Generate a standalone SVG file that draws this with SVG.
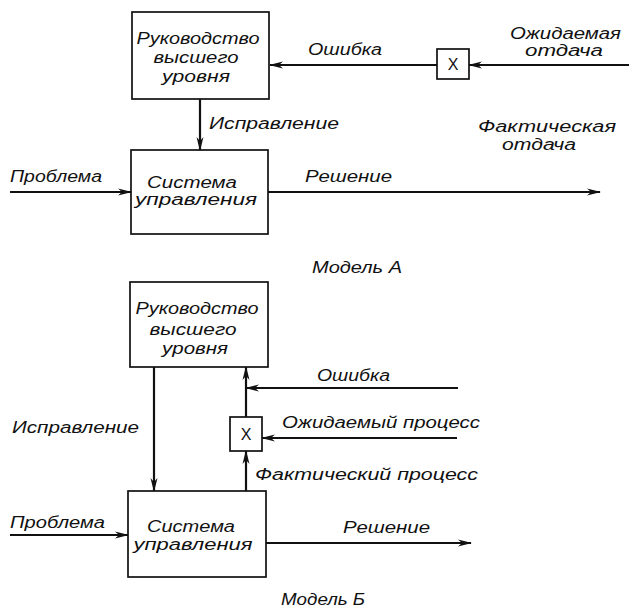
<svg xmlns="http://www.w3.org/2000/svg" width="629" height="610" viewBox="0 0 629 610">
  <style>
    .box { fill: #fff; stroke: #111; stroke-width: 1.7; }
    .ln { fill: none; stroke: #111; stroke-width: 2.2; }
    .t { font-family: "Liberation Sans", "DejaVu Sans", sans-serif; font-style: italic; font-size: 16px; fill: #111; }
    .c { text-anchor: middle; }
    .x { font-family: "Liberation Sans", "DejaVu Sans", sans-serif; font-size: 16px; fill: #111; text-anchor: middle; }
  </style>
  <defs>
    <marker id="arr" viewBox="0 0 14 8" refX="13" refY="4" markerWidth="14" markerHeight="8" markerUnits="userSpaceOnUse" orient="auto">
      <path d="M0,0.5 L14,4 L0,7.5 L4,4 z" fill="#111"/>
    </marker>
  </defs>
  <rect width="629" height="610" fill="#fff"/>

  <!-- Model A connectors -->
  <g id="connectors-a">
    <line class="ln" x1="437" y1="65" x2="270" y2="65" marker-end="url(#arr)"/>
    <line class="ln" x1="629" y1="65" x2="469" y2="65" marker-end="url(#arr)"/>
    <line class="ln" x1="200" y1="99" x2="200" y2="150" marker-end="url(#arr)"/>
    <line class="ln" x1="10" y1="192" x2="131" y2="192" marker-end="url(#arr)"/>
    <line class="ln" x1="268" y1="192" x2="600" y2="192" marker-end="url(#arr)"/>
  </g>

  <!-- Model A nodes -->
  <g id="a-top">
    <rect class="box" x="132" y="12" width="137" height="87"/>
    <text class="t c" x="198" y="44" textLength="123" lengthAdjust="spacingAndGlyphs">Руководство</text>
    <text class="t c" x="196" y="63" textLength="85" lengthAdjust="spacingAndGlyphs">высшего</text>
    <text class="t c" x="196" y="82" textLength="68" lengthAdjust="spacingAndGlyphs">уровня</text>
  </g>
  <g id="a-mult">
    <rect class="box" x="437" y="49" width="32" height="30"/>
    <text class="x" x="453" y="70">X</text>
  </g>
  <g id="a-bottom">
    <rect class="box" x="131" y="150" width="137" height="84"/>
    <text class="t c" x="192" y="188" textLength="90" lengthAdjust="spacingAndGlyphs">Система</text>
    <text class="t c" x="196" y="205" textLength="122" lengthAdjust="spacingAndGlyphs">управления</text>
  </g>
  <g id="a-labels">
    <text class="t" x="308" y="55" textLength="74" lengthAdjust="spacingAndGlyphs">Ошибка</text>
    <text class="t" x="510" y="39" textLength="111" lengthAdjust="spacingAndGlyphs">Ожидаемая</text>
    <text class="t" x="525" y="56" textLength="78" lengthAdjust="spacingAndGlyphs">отдача</text>
    <text class="t" x="209" y="129" textLength="130" lengthAdjust="spacingAndGlyphs">Исправление</text>
    <text class="t" x="478" y="132" textLength="138" lengthAdjust="spacingAndGlyphs">Фактическая</text>
    <text class="t" x="502" y="150" textLength="74" lengthAdjust="spacingAndGlyphs">отдача</text>
    <text class="t" x="10" y="182" textLength="92" lengthAdjust="spacingAndGlyphs">Проблема</text>
    <text class="t" x="305" y="182" textLength="87" lengthAdjust="spacingAndGlyphs">Решение</text>
    <text class="t" x="312" y="273" textLength="90" lengthAdjust="spacingAndGlyphs">Модель А</text>
  </g>

  <!-- Model B connectors -->
  <g id="connectors-b">
    <line class="ln" x1="154" y1="367" x2="154" y2="491" marker-end="url(#arr)"/>
    <line class="ln" x1="246" y1="491" x2="246" y2="451" marker-end="url(#arr)"/>
    <line class="ln" x1="246" y1="417" x2="246" y2="367" marker-end="url(#arr)"/>
    <line class="ln" x1="458" y1="388" x2="246" y2="388" marker-end="url(#arr)"/>
    <line class="ln" x1="457" y1="438" x2="262" y2="438" marker-end="url(#arr)"/>
    <line class="ln" x1="10" y1="535" x2="128" y2="535" marker-end="url(#arr)"/>
    <line class="ln" x1="266" y1="543" x2="471" y2="543" marker-end="url(#arr)"/>
  </g>

  <!-- Model B nodes -->
  <g id="b-top">
    <rect class="box" x="130" y="282" width="138" height="85"/>
    <text class="t c" x="197" y="314" textLength="123" lengthAdjust="spacingAndGlyphs">Руководство</text>
    <text class="t c" x="193" y="335" textLength="87" lengthAdjust="spacingAndGlyphs">высшего</text>
    <text class="t c" x="195" y="354" textLength="66" lengthAdjust="spacingAndGlyphs">уровня</text>
  </g>
  <g id="b-mult">
    <rect class="box" x="230" y="417" width="32" height="34"/>
    <text class="x" x="246" y="440">X</text>
  </g>
  <g id="b-bottom">
    <rect class="box" x="128" y="491" width="138" height="86"/>
    <text class="t c" x="191" y="532" textLength="88" lengthAdjust="spacingAndGlyphs">Система</text>
    <text class="t c" x="193" y="550" textLength="119" lengthAdjust="spacingAndGlyphs">управления</text>
  </g>
  <g id="b-labels">
    <text class="t" x="317" y="381" textLength="73" lengthAdjust="spacingAndGlyphs">Ошибка</text>
    <text class="t" x="282" y="428" textLength="198" lengthAdjust="spacingAndGlyphs">Ожидаемый процесс</text>
    <text class="t" x="255" y="480" textLength="223" lengthAdjust="spacingAndGlyphs">Фактический процесс</text>
    <text class="t" x="12" y="433" textLength="127" lengthAdjust="spacingAndGlyphs">Исправление</text>
    <text class="t" x="10" y="528" textLength="95" lengthAdjust="spacingAndGlyphs">Проблема</text>
    <text class="t" x="343" y="533" textLength="87" lengthAdjust="spacingAndGlyphs">Решение</text>
    <text class="t" x="281" y="605" textLength="84" lengthAdjust="spacingAndGlyphs">Модель Б</text>
  </g>
</svg>
